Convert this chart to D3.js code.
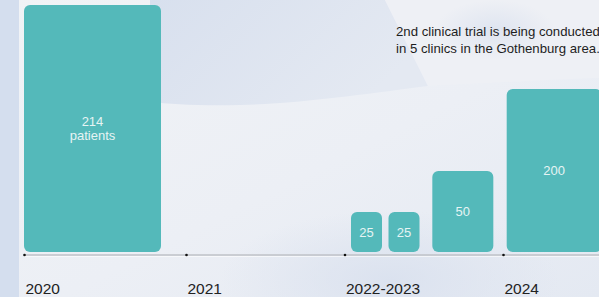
<!DOCTYPE html>
<meta charset="utf-8">
<style>
body { margin: 0; background: #eef1f5; }
svg { display: block; font-family: "Liberation Sans", Arial, sans-serif; }
.axis text { font-size: 15.5px; fill: #222; }
.bar-label { font-size: 13px; fill: #e6f4f4; text-anchor: middle; }
.note { font-size: 13.2px; fill: #1e1e1e; }
</style>
<svg width="599" height="297"></svg>
<script src="https://cdn.jsdelivr.net/npm/d3@7"></script>
<script>

// periods on the time axis
var periods = ["2020", "2021", "2022-2023", "2024"];

// one bar per cohort
var barPeriods = ["2020", "2022-2023", "2022-2023", "2022-2023", "2024"];
var barValues  = [214, 25, 25, 50, 200];
var barLabels  = [["214", "patients"], ["25"], ["25"], ["50"], ["200"]];

var noteLines = ["2nd clinical trial is being conducted",
                 "in 5 clinics in the Gothenburg area."];

var svg = d3.select("svg"),
    width = +svg.attr("width"),
    height = +svg.attr("height"),
    baseY = 252,
    axisY = 255;

// ---- background decoration ----
var defs = svg.append("defs");

var bg = defs.append("linearGradient").attr("id", "bg")
    .attr("x1", 0).attr("y1", 0).attr("x2", 1).attr("y2", 1);
bg.append("stop").attr("offset", "0%").attr("stop-color", "#f1f3f6");
bg.append("stop").attr("offset", "55%").attr("stop-color", "#eceff5");
bg.append("stop").attr("offset", "100%").attr("stop-color", "#e4e9f2");

var cap = defs.append("linearGradient").attr("id", "cap")
    .attr("x1", 0).attr("y1", 0).attr("x2", 1).attr("y2", 0.4);
cap.append("stop").attr("offset", "0%").attr("stop-color", "#d8e0ee");
cap.append("stop").attr("offset", "100%").attr("stop-color", "#e4e9f2");

var glow = defs.append("radialGradient").attr("id", "glow")
    .attr("cx", 0.5).attr("cy", 0.5).attr("r", 0.5);
glow.append("stop").attr("offset", "0%").attr("stop-color", "#dbe2ef");
glow.append("stop").attr("offset", "100%").attr("stop-color", "#dbe2ef").attr("stop-opacity", 0);

svg.append("rect").attr("width", width).attr("height", height).attr("fill", "url(#bg)");

svg.append("ellipse")
    .attr("cx", 390).attr("cy", 280).attr("rx", 170).attr("ry", 70)
    .attr("fill", "url(#glow)");

svg.append("path")
    .attr("d", "M150,0 L385,0 L428,86 C380,92 300,104 240,105 C200,106 170,104 150,102 Z")
    .attr("fill", "url(#cap)");

svg.append("path")
    .attr("d", "M385,0 L599,0 L599,78 C540,80 470,84 428,86 Z")
    .attr("fill", "#eef0f5");

svg.append("ellipse")
    .attr("cx", 495).attr("cy", 30).attr("rx", 60).attr("ry", 30)
    .attr("fill", "url(#glow)").attr("opacity", 0.8);

svg.append("rect").attr("x", 0).attr("y", 0)
    .attr("width", 19).attr("height", height).attr("fill", "#d4deee");

// ---- scales ----
var x = d3.scaleOrdinal().domain(periods).range([24, 186, 344.5, 503]);

var y = d3.scaleLinear()
    .domain([0, 25, 50, 200, 214])
    .range([baseY, 212, 171, 89, 5]);

var w = d3.scaleLinear()
    .domain([25, 50, 200, 214])
    .range([31, 61, 95, 137]);

var groupInset = {"2020": 0, "2021": 0, "2022-2023": 6.5, "2024": 3.7};

// lay bars out inside each period
var bars = [], lastPeriod = null, cursor = 0;
barValues.forEach(function(v, i) {
  var p = barPeriods[i], bw = w(v);
  if (p !== lastPeriod) {
    cursor = x(p) + groupInset[p];
  } else {
    cursor += 0.21 * bw;
  }
  bars.push({value: v, period: p, label: barLabels[i], x0: cursor, w: bw});
  cursor += bw;
  lastPeriod = p;
});

// ---- axis ----
svg.append("line")
    .attr("x1", x(periods[0])).attr("x2", width)
    .attr("y1", axisY).attr("y2", axisY)
    .attr("stroke", "#bfc2c7").attr("stroke-width", 1.6);

svg.append("line")
    .attr("x1", x(periods[0])).attr("x2", width)
    .attr("y1", axisY + 1.5).attr("y2", axisY + 1.5)
    .attr("stroke", "#ffffff").attr("stroke-opacity", 0.6);

var axis = svg.append("g")
    .attr("class", "axis")
    .attr("transform", "translate(0," + axisY + ")")
    .call(d3.axisBottom(x).tickSize(0));

axis.select(".domain").remove();
axis.selectAll(".tick text")
    .attr("text-anchor", "start")
    .attr("x", 1)
    .attr("y", 39)
    .attr("dy", 0)
    .style("font-family", "'Liberation Sans', Arial, sans-serif");
axis.selectAll(".tick").append("circle")
    .attr("r", 1.3).attr("fill", "#111");

// ---- bars ----
var bar = svg.append("g").selectAll("g")
    .data(bars)
  .enter().append("g");

bar.append("rect")
    .attr("x", function(d) { return d.x0; })
    .attr("y", function(d) { return y(d.value); })
    .attr("width", function(d) { return d.w; })
    .attr("height", function(d) { return baseY - y(d.value); })
    .attr("rx", 6)
    .attr("fill", "#54b9ba");

bar.each(function(d) {
  var cy = (y(d.value) + baseY) / 2,
      cx = d.x0 + d.w / 2;
  var t = d3.select(this).append("text")
      .attr("class", "bar-label");
  if (d.label.length === 1) {
    t.append("tspan").attr("x", cx).attr("y", cy + 4.6).text(d.label[0]);
  } else {
    t.append("tspan").attr("x", cx).attr("y", cy - 2.5).text(d.label[0]);
    t.append("tspan").attr("x", cx).attr("y", cy + 11.5).text(d.label[1]);
  }
});

// ---- annotation ----
svg.append("text")
    .attr("class", "note")
  .selectAll("tspan")
    .data(noteLines)
  .enter().append("tspan")
    .attr("x", 396)
    .attr("y", function(d, i) { return 35.5 + i * 17; })
    .text(function(d) { return d; });

</script>
